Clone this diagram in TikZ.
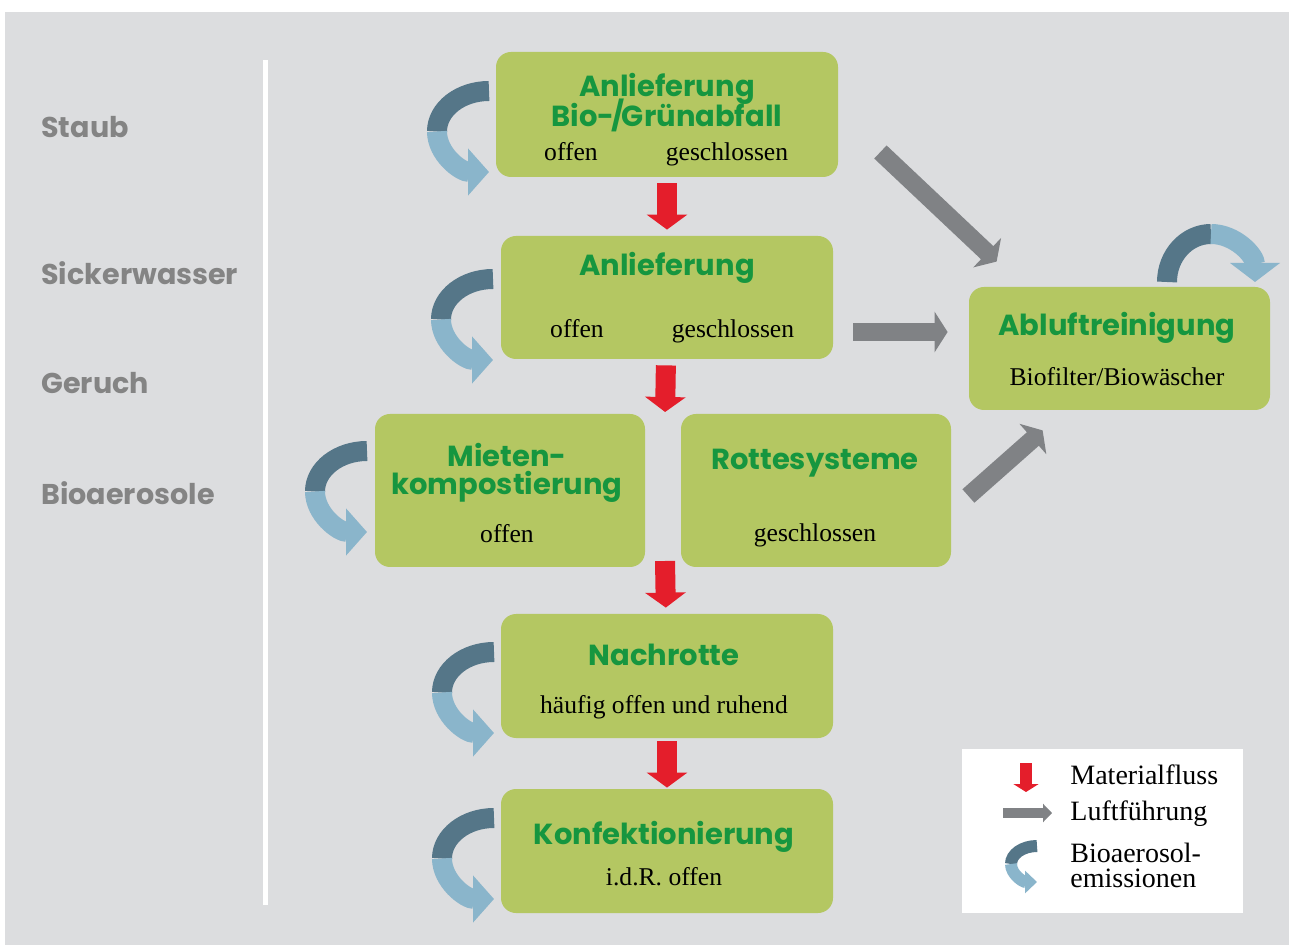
\documentclass[tikz,border=0pt]{standalone}
\usepackage{fontspec}
\setmainfont{Liberation Serif}
\newfontfamily\headfont{Poppins}
\usetikzlibrary{arrows.meta,positioning,calc}

\definecolor{bggray}{HTML}{DCDDDF}
\definecolor{boxgreen}{HTML}{B4C762}
\definecolor{titlegreen}{HTML}{16963F}
\definecolor{labelgray}{HTML}{848484}
\definecolor{emisdark}{HTML}{557688}
\definecolor{emislight}{HTML}{8AB5CB}
\definecolor{flowred}{HTML}{E41E2B}
\definecolor{airgray}{HTML}{808285}

\begin{document}
\begin{tikzpicture}[
    x=0.5pt, y=0.5pt,
    box/.style={
        rectangle, fill=boxgreen, rounded corners=7.5pt, inner sep=0pt
    },
    title/.style={
        font=\headfont\bfseries\fontsize{14.5}{14.5}\selectfont,
        text=titlegreen, anchor=base, inner sep=0pt
    },
    sub/.style={font=\fontsize{12.8}{14}\selectfont, anchor=base, inner sep=0pt},
    side/.style={
        font=\headfont\bfseries\fontsize{14.3}{14.3}\selectfont,
        text=labelgray, anchor=west, inner sep=0pt
    },
    legtext/.style={font=\fontsize{14}{12.5}\selectfont, anchor=west, align=left, inner sep=0pt},
    matflow/.style={draw=flowred, line width=10pt, -{Triangle[length=7.5pt,width=20pt]}, shorten <=3pt, shorten >=3pt},
    airflow/.style={draw=airgray, line width=9pt, -{Triangle[length=6.5pt,width=20pt]}},
    emis/.pic={
        \draw[emisdark, line width=10pt] (-1,81) arc[start angle=90, end angle=180, x radius=26pt, y radius=20.25pt];
        \draw[emislight, line width=10pt, -{Triangle[length=10.5pt,width=23pt]}] (-53,40.5) arc[start angle=180, end angle=270, x radius=26pt, y radius=20.25pt];
    }
]
    \useasboundingbox (0,0) rectangle (1289,-945);
    \fill[bggray] (5,-12) rectangle (1289,-945);
    \fill[white] (263,-60) rectangle (268,-905);

    % side labels
    \foreach \lbl/\yy in {Staub/127, Sickerwasser/273, Geruch/383, Bioaerosole/493}
        \node[side] (side-\lbl) at (41,-\yy) {\lbl};

    % process boxes
    \node[box, minimum width=171pt, minimum height=62.5pt] (anl1) at (667,-114.5) {};
    \node[box, minimum width=166pt, minimum height=61.5pt] (anl2) at (667,-297.5) {};
    \node[box, minimum width=135pt, minimum height=76.5pt] (miet) at (510,-490.5) {};
    \node[box, minimum width=135pt, minimum height=76.5pt] (rotte) at (816,-490.5) {};
    \node[box, minimum width=150.5pt, minimum height=61.5pt] (ablu) at (1119.5,-348.5) {};
    \node[box, minimum width=166pt, minimum height=62pt] (nach) at (667,-676) {};
    \node[box, minimum width=166pt, minimum height=62pt] (konf) at (667,-851) {};

    \node[title] (anl1-t1) at (667,-97) {Anlieferung};
    \node[title] (anl1-t2) at (667,-127) {Bio-\kern-1.5pt/\kern-1.5ptGrünabfall};
    \node[sub] (anl1-o) at (571,-161) {offen};
    \node[sub] (anl1-g) at (727,-161) {geschlossen};

    \node[title] (anl2-t) at (667,-276) {Anlieferung};
    \node[sub] (anl2-o) at (577,-338) {offen};
    \node[sub] (anl2-g) at (733,-338) {geschlossen};

    \node[title] (miet-t1) at (507,-467) {Mieten-};
    \node[title] (miet-t2) at (507,-495) {kompostierung};
    \node[sub] (miet-o) at (507,-543) {offen};

    \node[title] (rotte-t) at (815,-470) {Rottesysteme};
    \node[sub] (rotte-g) at (815,-542) {geschlossen};

    \node[title] (ablu-t) at (1117,-336) {Abluftreinigung};
    \node[sub] (ablu-b) at (1117,-386) {Biofilter/Biowäscher};

    \node[title] (nach-t) at (664,-665) {Nachrotte};
    \node[sub] (nach-h) at (664,-713) {häufig offen und ruhend};

    \node[title] (konf-t) at (664,-844) {Konfektionierung};
    \node[sub] (konf-i) at (664,-885) {i.d.R. offen};

    % material flow
    \coordinate (splitin) at (665,-418);
    \coordinate (splitout) at (665,-561);
    \draw[matflow] (anl1) -- (anl2);
    \draw[matflow] (anl2) -- (splitin);
    \draw[matflow, shorten <=0pt] (splitout) -- (nach);
    \draw[matflow, shorten <=1.5pt, shorten >=0.5pt] (nach) -- (konf);

    % air flow
    \draw[airflow] ([shift={(42,-37.5)}]anl1.east) -- ([shift={(28,25)}]ablu.north west);
    \draw[airflow] ([shift={(20,-34.5)}]anl2.east) -- ([shift={(-21,16.5)}]ablu.west);
    \draw[airflow] ([shift={(17,-5.5)}]rotte.east) -- ([shift={(74,-20)}]ablu.south west);

    % bioaerosol emissions
    \foreach \tx/\ty in {490/172, 494/360, 368/532, 495/733, 495/899}
        \pic at (\tx,-\ty) {emis};
    \draw[emisdark, line width=10pt] (1167,-282) arc[start angle=180, end angle=90, x radius=22pt, y radius=24pt];
    \draw[emislight, line width=10pt, -{Triangle[length=9.5pt,width=24.5pt]}] (1211,-234) arc[start angle=90, end angle=0, x radius=22pt, y radius=24pt];

    % legend
    \node[fill=white, minimum width=140.5pt, minimum height=82pt, inner sep=0pt] (leg) at (1102.5,-831) {};
    \draw[flowred, line width=6pt, -{Triangle[length=4pt,width=12.5pt]}] (1026,-763) -- (1026,-792);
    \draw[airgray, line width=5pt, -{Triangle[length=4.5pt,width=9pt]}] (1003,-813) -- (1052,-813);
    \draw[emisdark, line width=6pt] (1037,-846) arc[start angle=90, end angle=180, x radius=13pt, y radius=9pt];
    \draw[emislight, line width=6pt, -{Triangle[length=6pt,width=11pt]}] (1011,-864) arc[start angle=180, end angle=270, x radius=13pt, y radius=9pt];
    \node[legtext] (leg-mat) at (1070,-775) {Materialfluss};
    \node[legtext] (leg-luft) at (1070,-814) {Luftführung};
    \node[legtext] (leg-bio) at (1070,-865.5) {Bioaerosol-\\emissionen};
\end{tikzpicture}
\end{document}
